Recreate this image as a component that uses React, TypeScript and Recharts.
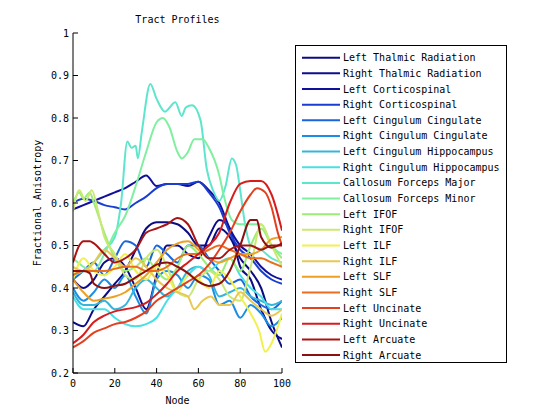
import React from 'react';
import { LineChart, Line, XAxis, YAxis, Legend, Label } from 'recharts';

const FONT = '"DejaVu Sans Mono", monospace';

const TITLE = 'Tract Profiles';
const X_LABEL = 'Node';
const Y_LABEL = 'Fractional Anisotropy';
const X_TICKS = [0, 20, 40, 60, 80, 100];
const Y_TICKS = [0.2, 0.3, 0.4, 0.5, 0.6, 0.7, 0.8, 0.9, 1];

const TRACT_NAMES = [
  'Left Thalmic Radiation', 'Right Thalmic Radiation', 'Left Corticospinal', 'Right Corticospinal',
  'Left Cingulum Cingulate', 'Right Cingulum Cingulate', 'Left Cingulum Hippocampus', 'Right Cingulum Hippocampus',
  'Callosum Forceps Major', 'Callosum Forceps Minor', 'Left IFOF', 'Right IFOF', 'Left ILF', 'Right ILF',
  'Left SLF', 'Right SLF', 'Left Uncinate', 'Right Uncinate', 'Left Arcuate', 'Right Arcuate',
];

const COLORS = [
  '#0c0c82', '#0c0c8c', '#10109c', '#1a3ed0', '#1a64dc', '#1a8ee4', '#34b6da', '#48e0e4', '#5ee6cc', '#80f0a0',
  '#9aee78', '#cae874', '#f2f04c', '#e8c852', '#eca024', '#ea6e22', '#e2401e', '#d81c1c', '#a81414', '#8c1010',
];

const NODES_5 = [0, 5, 10, 15, 20, 25, 30, 35, 40, 45, 50, 55, 60, 65, 70, 75, 80, 85, 90, 95, 100];

const LTR = [0.32, 0.31, 0.35, 0.38, 0.41, 0.44, 0.49, 0.54, 0.555, 0.555, 0.55, 0.53, 0.5, 0.5, 0.54, 0.52, 0.47, 0.44, 0.4, 0.32, 0.26];
const RTR = [0.42, 0.4, 0.42, 0.46, 0.47, 0.45, 0.4, 0.35, 0.43, 0.5, 0.5, 0.48, 0.47, 0.52, 0.56, 0.54, 0.45, 0.42, 0.35, 0.3, 0.28];
const LCST = [0.585, 0.595, 0.605, 0.615, 0.625, 0.635, 0.65, 0.665, 0.64, 0.645, 0.645, 0.64, 0.65, 0.63, 0.6, 0.54, 0.5, 0.48, 0.45, 0.43, 0.42];
const RCST = [0.6, 0.61, 0.605, 0.595, 0.59, 0.585, 0.6, 0.615, 0.635, 0.645, 0.645, 0.645, 0.65, 0.625, 0.59, 0.53, 0.49, 0.47, 0.44, 0.42, 0.41];
const LCC = [0.42, 0.44, 0.46, 0.43, 0.47, 0.51, 0.5, 0.45, 0.5, 0.48, 0.46, 0.5, 0.5, 0.47, 0.44, 0.41, 0.42, 0.38, 0.36, 0.35, 0.37];
const RCC = [0.4, 0.37, 0.39, 0.42, 0.4, 0.43, 0.38, 0.34, 0.42, 0.44, 0.43, 0.4, 0.43, 0.42, 0.36, 0.37, 0.33, 0.36, 0.34, 0.31, 0.33];
const LCH = [0.39, 0.36, 0.36, 0.37, 0.35, 0.36, 0.4, 0.42, 0.4, 0.38, 0.4, 0.44, 0.45, 0.43, 0.38, 0.39, 0.4, 0.38, 0.37, 0.36, 0.37];
const RCH = [0.38, 0.35, 0.35, 0.35, 0.33, 0.315, 0.31, 0.315, 0.33, 0.37, 0.4, 0.43, 0.45, 0.44, 0.46, 0.47, 0.43, 0.4, 0.38, 0.35, 0.35];

const CFMAJ_NODES = [0, 5, 10, 15, 20, 23, 26, 28, 30, 31, 33, 37, 40, 44, 49, 52, 54, 57, 61, 64, 67, 70, 73, 76, 78, 80, 82, 85, 90, 95, 100];
const CFMAJ = [0.43, 0.44, 0.46, 0.49, 0.52, 0.6, 0.745, 0.73, 0.735, 0.705, 0.77, 0.88, 0.845, 0.815, 0.837, 0.805, 0.825, 0.83, 0.795, 0.68, 0.63, 0.605, 0.64, 0.705, 0.69, 0.63, 0.56, 0.5, 0.49, 0.47, 0.46];

const CFMIN_NODES = [0, 5, 10, 15, 20, 25, 30, 35, 40, 43, 46, 50, 52, 55, 58, 62, 65, 70, 72, 76, 80, 85, 90, 95, 100];
const CFMIN = [0.47, 0.45, 0.44, 0.48, 0.53, 0.57, 0.64, 0.72, 0.79, 0.8, 0.78, 0.72, 0.705, 0.72, 0.75, 0.75, 0.73, 0.665, 0.62, 0.56, 0.55, 0.55, 0.55, 0.5, 0.48];

const LIFOF_NODES = [0, 3, 5, 8, 10, 15, 20, 25, 30, 35, 40, 45, 50, 55, 60, 65, 70, 75, 80, 85, 90, 95, 100];
const LIFOF = [0.6, 0.625, 0.61, 0.625, 0.6, 0.53, 0.47, 0.44, 0.45, 0.47, 0.44, 0.42, 0.45, 0.5, 0.48, 0.45, 0.43, 0.47, 0.44, 0.5, 0.54, 0.5, 0.47];

const RIFOF_NODES = [0, 3, 6, 9, 12, 15, 20, 25, 30, 35, 40, 45, 50, 55, 60, 65, 70, 75, 80, 85, 90, 95, 100];
const RIFOF = [0.58, 0.63, 0.605, 0.63, 0.58, 0.52, 0.48, 0.43, 0.42, 0.47, 0.49, 0.45, 0.39, 0.38, 0.42, 0.44, 0.42, 0.38, 0.37, 0.45, 0.55, 0.5, 0.45];

const LILF_NODES = [0, 5, 10, 15, 20, 25, 30, 35, 40, 45, 50, 55, 60, 65, 70, 75, 80, 85, 89, 92, 95, 100];
const LILF = [0.42, 0.47, 0.44, 0.43, 0.45, 0.48, 0.44, 0.42, 0.45, 0.43, 0.39, 0.43, 0.42, 0.4, 0.44, 0.42, 0.38, 0.34, 0.3, 0.25, 0.27, 0.34];

const RILF_NODES = [0, 5, 10, 15, 20, 25, 30, 35, 40, 45, 50, 55, 58, 62, 66, 70, 75, 80, 85, 90, 95, 100];
const RILF = [0.45, 0.44, 0.46, 0.49, 0.47, 0.45, 0.47, 0.45, 0.42, 0.4, 0.39, 0.38, 0.35, 0.37, 0.38, 0.36, 0.36, 0.39, 0.37, 0.35, 0.335, 0.35];

const LSLF = [0.42, 0.39, 0.37, 0.375, 0.38, 0.39, 0.41, 0.43, 0.46, 0.49, 0.505, 0.51, 0.49, 0.47, 0.46, 0.47, 0.48, 0.48, 0.49, 0.515, 0.52];
const RSLF = [0.43, 0.44, 0.44, 0.44, 0.445, 0.45, 0.45, 0.44, 0.44, 0.45, 0.47, 0.48, 0.48, 0.49, 0.5, 0.49, 0.48, 0.47, 0.47, 0.46, 0.45];

const LUNC_NODES = [0, 5, 10, 15, 20, 25, 30, 35, 40, 45, 50, 55, 60, 65, 70, 75, 80, 85, 88, 92, 95, 98, 100];
const LUNC = [0.26, 0.275, 0.295, 0.305, 0.315, 0.32, 0.33, 0.345, 0.37, 0.385, 0.4, 0.415, 0.43, 0.455, 0.49, 0.53, 0.58, 0.62, 0.635, 0.625, 0.59, 0.53, 0.5];

const RUNC = [0.27, 0.29, 0.32, 0.335, 0.345, 0.35, 0.355, 0.365, 0.385, 0.41, 0.44, 0.46, 0.48, 0.5, 0.53, 0.6, 0.645, 0.652, 0.652, 0.62, 0.535];

const LARC_NODES = [0, 3, 5, 8, 10, 15, 20, 25, 30, 35, 40, 45, 50, 55, 60, 65, 70, 75, 80, 85, 90, 95, 100];
const LARC = [0.46, 0.5, 0.51, 0.51, 0.505, 0.48, 0.46, 0.47, 0.49, 0.53, 0.54, 0.55, 0.565, 0.55, 0.5, 0.47, 0.47, 0.49, 0.5, 0.5, 0.49, 0.5, 0.5];

const RARC_NODES = [0, 5, 8, 10, 15, 20, 25, 30, 35, 40, 45, 50, 55, 60, 65, 70, 75, 80, 85, 88, 90, 95, 100];
const RARC = [0.44, 0.44, 0.435, 0.41, 0.4, 0.405, 0.41, 0.425, 0.44, 0.455, 0.46, 0.45, 0.435, 0.415, 0.405, 0.41, 0.44, 0.5, 0.56, 0.56, 0.52, 0.495, 0.505];

const SERIES_NODES = [
  NODES_5, NODES_5, NODES_5, NODES_5, NODES_5, NODES_5, NODES_5, NODES_5,
  CFMAJ_NODES, CFMIN_NODES, LIFOF_NODES, RIFOF_NODES, LILF_NODES, RILF_NODES,
  NODES_5, NODES_5, LUNC_NODES, NODES_5, LARC_NODES, RARC_NODES,
];
const SERIES_VALUES = [
  LTR, RTR, LCST, RCST, LCC, RCC, LCH, RCH, CFMAJ, CFMIN, LIFOF, RIFOF, LILF, RILF, LSLF, RSLF, LUNC, RUNC, LARC, RARC,
];

const series = TRACT_NAMES.map((name, i) => ({
  name,
  color: COLORS[i],
  data: SERIES_NODES[i].map((n, j) => ({ node: n, fa: SERIES_VALUES[i][j] })),
}));

function YTick(props: any) {
  const { x, y, payload } = props;
  const v = payload.value;
  const label = v === 1 ? '1' : v.toFixed(1);
  return (
    <g>
      <line x1={x} x2={x + 5} y1={y} y2={y} stroke="#000" strokeWidth={1} />
      <text x={x - 4} y={y} dy={3.5} textAnchor="end" fontFamily={FONT} fontSize={10} fill="#000">{label}</text>
    </g>
  );
}

function XTick(props: any) {
  const { x, y, payload } = props;
  return (
    <g>
      <line x1={x} x2={x} y1={y} y2={y - 5} stroke="#000" strokeWidth={1} />
      <text x={x} y={y + 14} textAnchor="middle" fontFamily={FONT} fontSize={10} fill="#000">{String(payload.value)}</text>
    </g>
  );
}

function LegendBox() {
  const W = 212;
  const H = 318;
  return (
    <svg width={W} height={H} style={{ display: 'block' }}>
      <rect x={0.5} y={0.5} width={W - 1} height={H - 1} fill="#fff" stroke="#000" strokeWidth={1} />
      {series.map((s, i) => {
        const cy = 12.7 + 15.65 * i;
        return (
          <g key={s.name}>
            <line x1={7} x2={45} y1={cy} y2={cy} stroke={s.color} strokeWidth={2} />
            <text x={48} y={cy + 3.5} fontFamily={FONT} fontSize={10} fill="#000">{s.name}</text>
          </g>
        );
      })}
    </svg>
  );
}

export default function App() {
  return (
    <div style={{ position: 'absolute', left: 0, top: 0, width: 560, height: 420, background: '#fff' }}>
      <div
        style={{
          position: 'absolute', left: 77.5, top: 14, width: 200, textAlign: 'center',
          fontFamily: FONT, fontSize: 10, lineHeight: '12px', color: '#000', zIndex: 2,
        }}
      >
        {TITLE}
      </div>
      <LineChart width={560} height={420} margin={{ top: 33, right: 278, bottom: 0, left: 0 }}>
        <XAxis
          dataKey="node"
          type="number"
          domain={[0, 100]}
          ticks={X_TICKS}
          allowDataOverflow
          height={47}
          tickSize={0}
          tickMargin={0}
          tickLine={false}
          tick={<XTick />}
          axisLine={{ stroke: '#000', strokeWidth: 1 }}
          interval={0}
        >
          <Label
            content={() => (
              <text x={177.5} y={404} textAnchor="middle" fontFamily={FONT} fontSize={10} fill="#000">{X_LABEL}</text>
            )}
          />
        </XAxis>
        <YAxis
          type="number"
          domain={[0.2, 1]}
          ticks={Y_TICKS}
          allowDataOverflow
          width={73}
          tickSize={0}
          tickMargin={0}
          tickLine={false}
          tick={<YTick />}
          axisLine={{ stroke: '#000', strokeWidth: 1 }}
          interval={0}
        >
          <Label
            content={() => (
              <text
                x={41}
                y={203}
                transform="rotate(-90 41 203)"
                textAnchor="middle"
                fontFamily={FONT}
                fontSize={10}
                fill="#000"
              >
                {Y_LABEL}
              </text>
            )}
          />
        </YAxis>
        <Legend
          layout="vertical"
          align="center"
          verticalAlign="middle"
          content={() => <LegendBox />}
          wrapperStyle={{ left: 295, top: 45, width: 212, height: 318 }}
        />
        {series.map((s) => (
          <Line
            key={s.name}
            data={s.data}
            dataKey="fa"
            name={s.name}
            type="monotone"
            stroke={s.color}
            strokeWidth={2}
            dot={false}
            activeDot={false}
            isAnimationActive={false}
          />
        ))}
      </LineChart>
    </div>
  );
}
